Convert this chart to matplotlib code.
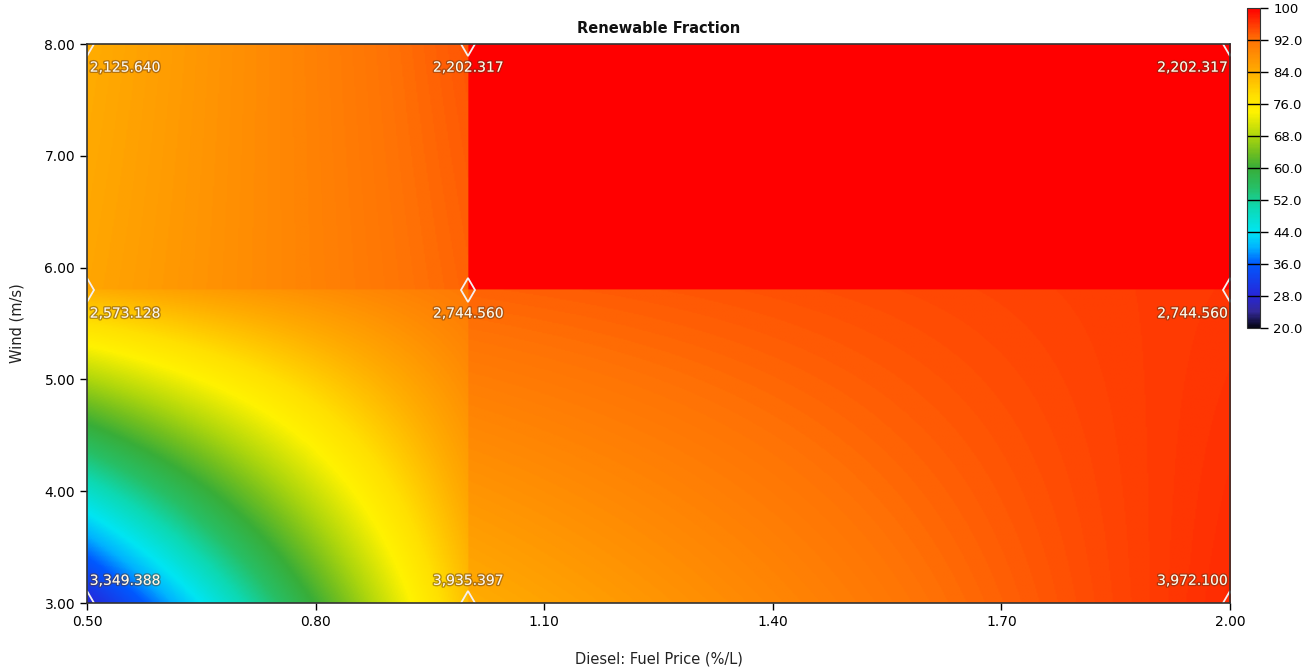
import numpy as np
import matplotlib
matplotlib.use("Agg")
import matplotlib.pyplot as plt
from matplotlib.colors import LinearSegmentedColormap
import matplotlib.patheffects as pe

# ---- data ----
x_points = [0.5, 1.0, 2.0]          # Diesel fuel price ($/L)
y_points = [3.0, 5.8, 8.0]          # Wind speed (m/s)
# renewable fraction at cell corners, per cell: [bottom-left, bottom-right, top-left, top-right]
cell_low_left = [28, 82, 84, 91]
cell_low_right = [84, 97, 93, 96]
cell_high_left = [85, 93, 84, 94]
cell_high_right = [100, 100, 100, 100]
# point labels (total NPC)
point_labels = [
    ["3,349.388", "3,935.397", "3,972.100"],
    ["2,573.128", "2,744.560", "2,744.560"],
    ["2,125.640", "2,202.317", "2,202.317"],
]
x_ticks = [0.50, 0.80, 1.10, 1.40, 1.70, 2.00]
y_ticks = [3.0, 4.0, 5.0, 6.0, 7.0, 8.0]
cbar_ticks = [20, 28, 36, 44, 52, 60, 68, 76, 84, 92, 100]
cbar_labels = ["20.0", "28.0", "36.0", "44.0", "52.0", "60.0", "68.0", "76.0", "84.0", "92.0", "100"]

# ---- colormap ----
stops = [
    (20, (0.02, 0.02, 0.08)),
    (24, (0.20, 0.16, 0.60)),
    (28, (0.15, 0.15, 0.85)),
    (36, (0.00, 0.35, 1.00)),
    (40, (0.00, 0.70, 1.00)),
    (44, (0.00, 0.90, 0.95)),
    (50, (0.05, 0.85, 0.70)),
    (55, (0.15, 0.75, 0.40)),
    (60, (0.22, 0.68, 0.22)),
    (64, (0.45, 0.75, 0.12)),
    (68, (0.68, 0.84, 0.05)),
    (74, (1.00, 0.95, 0.00)),
    (78, (1.00, 0.88, 0.00)),
    (84, (1.00, 0.68, 0.00)),
    (92, (1.00, 0.45, 0.02)),
    (100, (1.00, 0.00, 0.00)),
]
cmap = LinearSegmentedColormap.from_list(
    "homer", [((v - 20) / 80, c) for v, c in stops])

# ---- surface ----
nx, ny = 900, 500
xs = np.linspace(x_points[0], x_points[-1], nx)
ys = np.linspace(y_points[0], y_points[-1], ny)
X, Y = np.meshgrid(xs, ys)
Z = np.zeros_like(X)
cells = {(0, 0): cell_low_left, (1, 0): cell_low_right,
         (0, 1): cell_high_left, (1, 1): cell_high_right}
for (i, j), c in cells.items():
    x0, x1 = x_points[i], x_points[i + 1]
    y0, y1 = y_points[j], y_points[j + 1]
    m = (X >= x0) & (X <= x1) & (Y >= y0) & (Y <= y1)
    u = (X[m] - x0) / (x1 - x0)
    v = (Y[m] - y0) / (y1 - y0)
    Z[m] = (c[0] * (1 - u) * (1 - v) + c[1] * u * (1 - v)
            + c[2] * (1 - u) * v + c[3] * u * v)

fig = plt.figure(figsize=(13.04, 6.71), dpi=100)
ax = fig.add_axes([0.0667, 0.1013, 0.8766, 0.8331])
im = ax.imshow(Z, origin="lower", extent=[x_points[0], x_points[-1], y_points[0], y_points[-1]],
               aspect="auto", cmap=cmap, vmin=20, vmax=100, interpolation="bilinear")
ax.set_xlim(x_points[0], x_points[-1])
ax.set_ylim(y_points[0], y_points[-1])
ax.set_xticks(x_ticks)
ax.set_xticklabels([f"{t:.2f}" for t in x_ticks])
ax.set_yticks(y_ticks)
ax.set_yticklabels([f"{t:.2f}" for t in y_ticks])
ax.tick_params(direction="out", length=5, width=1, labelsize=10, colors="black")
for s in ax.spines.values():
    s.set_color("#333333")
    s.set_linewidth(1.2)
ax.set_title("Renewable Fraction", fontsize=10.5, pad=8, color="#111111", fontweight="semibold")
ax.set_xlabel("Diesel: Fuel Price (%/L)", fontsize=10.5, labelpad=16, color="#222222")
ax.set_ylabel("Wind (m/s)", fontsize=10.5, labelpad=14, color="#222222")

# markers
PX, PY = np.meshgrid(x_points, y_points)
ax.plot(PX.ravel(), PY.ravel(), linestyle="none", marker="d", markersize=12,
        markerfacecolor="none", markeredgecolor="#f4f0f0", markeredgewidth=1.3, clip_on=True)

# labels
effects = [pe.withStroke(linewidth=2.0, foreground=(0.35, 0.2, 0.1, 0.45))]
for j, yv in enumerate(y_points):
    for i, xv in enumerate(x_points):
        ha = "left" if i == 0 else ("right" if i == len(x_points) - 1 else "center")
        dx = 2 if i == 0 else (-2 if i == len(x_points) - 1 else 0)
        dy = 16 if j == 0 else -17
        ax.annotate(point_labels[j][i], (xv, yv), xytext=(dx, dy), textcoords="offset points",
                    ha=ha, va="center", fontsize=10, color="#fff8e8", path_effects=effects)

# colorbar
cax = fig.add_axes([0.9563, 0.5112, 0.0100, 0.4769])
cb = fig.colorbar(im, cax=cax, ticks=cbar_ticks)
cb.set_ticklabels(cbar_labels)
cb.ax.tick_params(direction="out", length=6, width=1, labelsize=9.5)
cb.outline.set_edgecolor("#333333")
for t in cbar_ticks[1:-1]:
    cax.axhline(t, color="black", linewidth=1)

fig.savefig("out.png", dpi=100, facecolor="white")
